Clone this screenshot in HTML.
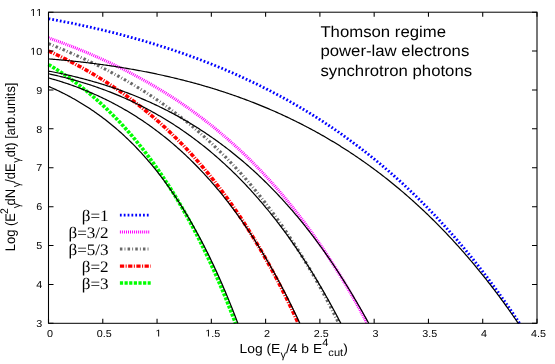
<!DOCTYPE html>
<html><head><meta charset="utf-8"><title>plot</title><style>html,body{margin:0;padding:0;background:#fff}body{width:555px;height:364px;overflow:hidden;position:relative;font-family:"Liberation Sans",sans-serif}</style></head><body>
<svg width="555" height="364" viewBox="0 0 555 364" style="position:absolute;left:0;top:0;will-change:transform;text-rendering:geometricPrecision">
<rect x="0" y="0" width="555" height="364" fill="#fff"/>
<g transform="scale(1.0673,1)">
<g fill="none">
<path d="M45.44,18.77 L46.59,18.99 L47.74,19.22 L48.88,19.44 L50.03,19.67 L51.18,19.89 L52.32,20.12 L53.47,20.35 L54.62,20.59 L55.77,20.82 L56.91,21.05 L58.06,21.29 L59.21,21.53 L60.35,21.77 L61.50,22.01 L62.65,22.25 L63.80,22.50 L64.94,22.74 L66.09,22.99 L67.24,23.24 L68.38,23.49 L69.53,23.74 L70.68,24.00 L71.83,24.25 L72.97,24.51 L74.12,24.77 L75.27,25.03 L76.41,25.29 L77.56,25.55 L78.71,25.82 L79.86,26.09 L81.00,26.35 L82.15,26.62 L83.30,26.90 L84.44,27.17 L85.59,27.45 L86.74,27.72 L87.89,28.00 L89.03,28.28 L90.18,28.56 L91.33,28.85 L92.47,29.13 L93.62,29.42 L94.77,29.71 L95.91,30.00 L97.06,30.29 L98.21,30.59 L99.36,30.89 L100.50,31.18 L101.65,31.48 L102.80,31.79 L103.94,32.09 L105.09,32.39 L106.24,32.70 L107.39,33.01 L108.53,33.32 L109.68,33.64 L110.83,33.95 L111.97,34.27 L113.12,34.58 L114.27,34.91 L115.42,35.23 L116.56,35.55 L117.71,35.88 L118.86,36.21 L120.00,36.54 L121.15,36.87 L122.30,37.20 L123.45,37.54 L124.59,37.88 L125.74,38.22 L126.89,38.56 L128.03,38.90 L129.18,39.25 L130.33,39.60 L131.48,39.95 L132.62,40.30 L133.77,40.65 L134.92,41.01 L136.06,41.37 L137.21,41.73 L138.36,42.09 L139.51,42.45 L140.65,42.82 L141.80,43.19 L142.95,43.56 L144.09,43.93 L145.24,44.31 L146.39,44.68 L147.53,45.06 L148.68,45.45 L149.83,45.83 L150.98,46.22 L152.12,46.60 L153.27,46.99 L154.42,47.39 L155.56,47.78 L156.71,48.18 L157.86,48.58 L159.01,48.98 L160.15,49.38 L161.30,49.79 L162.45,50.20 L163.59,50.61 L164.74,51.02 L165.89,51.44 L167.04,51.86 L168.18,52.28 L169.33,52.70 L170.48,53.13 L171.62,53.55 L172.77,53.98 L173.92,54.42 L175.07,54.85 L176.21,55.29 L177.36,55.73 L178.51,56.17 L179.65,56.61 L180.80,57.06 L181.95,57.51 L183.10,57.96 L184.24,58.42 L185.39,58.88 L186.54,59.34 L187.68,59.80 L188.83,60.26 L189.98,60.73 L191.13,61.20 L192.27,61.67 L193.42,62.15 L194.57,62.63 L195.71,63.11 L196.86,63.59 L198.01,64.08 L199.16,64.57 L200.30,65.06 L201.45,65.55 L202.60,66.05 L203.74,66.55 L204.89,67.05 L206.04,67.56 L207.18,68.06 L208.33,68.57 L209.48,69.09 L210.63,69.60 L211.77,70.12 L212.92,70.65 L214.07,71.17 L215.21,71.70 L216.36,72.23 L217.51,72.76 L218.66,73.30 L219.80,73.84 L220.95,74.38 L222.10,74.93 L223.24,75.48 L224.39,76.03 L225.54,76.58 L226.69,77.14 L227.83,77.70 L228.98,78.26 L230.13,78.83 L231.27,79.40 L232.42,79.97 L233.57,80.55 L234.72,81.13 L235.86,81.71 L237.01,82.30 L238.16,82.89 L239.30,83.48 L240.45,84.07 L241.60,84.67 L242.75,85.27 L243.89,85.88 L245.04,86.49 L246.19,87.10 L247.33,87.71 L248.48,88.33 L249.63,88.95 L250.78,89.58 L251.92,90.20 L253.07,90.84 L254.22,91.47 L255.36,92.11 L256.51,92.75 L257.66,93.40 L258.81,94.05 L259.95,94.70 L261.10,95.35 L262.25,96.01 L263.39,96.68 L264.54,97.34 L265.69,98.01 L266.83,98.69 L267.98,99.36 L269.13,100.05 L270.28,100.73 L271.42,101.42 L272.57,102.11 L273.72,102.81 L274.86,103.51 L276.01,104.21 L277.16,104.92 L278.31,105.63 L279.45,106.34 L280.60,107.06 L281.75,107.78 L282.89,108.51 L284.04,109.24 L285.19,109.97 L286.34,110.71 L287.48,111.45 L288.63,112.20 L289.78,112.95 L290.92,113.70 L292.07,114.46 L293.22,115.22 L294.37,115.99 L295.51,116.76 L296.66,117.53 L297.81,118.31 L298.95,119.09 L300.10,119.88 L301.25,120.67 L302.40,121.47 L303.54,122.27 L304.69,123.07 L305.84,123.88 L306.98,124.69 L308.13,125.51 L309.28,126.33 L310.43,127.15 L311.57,127.98 L312.72,128.82 L313.87,129.66 L315.01,130.50 L316.16,131.35 L317.31,132.20 L318.46,133.06 L319.60,133.92 L320.75,134.78 L321.90,135.65 L323.04,136.53 L324.19,137.41 L325.34,138.29 L326.48,139.18 L327.63,140.08 L328.78,140.98 L329.93,141.88 L331.07,142.79 L332.22,143.70 L333.37,144.62 L334.51,145.54 L335.66,146.47 L336.81,147.40 L337.96,148.34 L339.10,149.28 L340.25,150.23 L341.40,151.18 L342.54,152.14 L343.69,153.10 L344.84,154.07 L345.99,155.04 L347.13,156.02 L348.28,157.00 L349.43,157.99 L350.57,158.98 L351.72,159.98 L352.87,160.99 L354.02,162.00 L355.16,163.01 L356.31,164.03 L357.46,165.06 L358.60,166.09 L359.75,167.13 L360.90,168.17 L362.05,169.22 L363.19,170.27 L364.34,171.33 L365.49,172.39 L366.63,173.46 L367.78,174.54 L368.93,175.62 L370.08,176.71 L371.22,177.80 L372.37,178.90 L373.52,180.00 L374.66,181.11 L375.81,182.23 L376.96,183.35 L378.11,184.48 L379.25,185.61 L380.40,186.75 L381.55,187.90 L382.69,189.05 L383.84,190.21 L384.99,191.37 L386.13,192.54 L387.28,193.72 L388.43,194.90 L389.58,196.09 L390.72,197.28 L391.87,198.48 L393.02,199.69 L394.16,200.91 L395.31,202.13 L396.46,203.35 L397.61,204.59 L398.75,205.83 L399.90,207.07 L401.05,208.33 L402.19,209.59 L403.34,210.85 L404.49,212.13 L405.64,213.41 L406.78,214.69 L407.93,215.99 L409.08,217.29 L410.22,218.59 L411.37,219.91 L412.52,221.23 L413.67,222.56 L414.81,223.89 L415.96,225.23 L417.11,226.58 L418.25,227.94 L419.40,229.30 L420.55,230.67 L421.70,232.05 L422.84,233.43 L423.99,234.83 L425.14,236.23 L426.28,237.63 L427.43,239.05 L428.58,240.47 L429.73,241.90 L430.87,243.33 L432.02,244.78 L433.17,246.23 L434.31,247.69 L435.46,249.16 L436.61,250.63 L437.76,252.12 L438.90,253.61 L440.05,255.10 L441.20,256.61 L442.34,258.13 L443.49,259.65 L444.64,261.18 L445.78,262.72 L446.93,264.26 L448.08,265.82 L449.23,267.38 L450.37,268.95 L451.52,270.53 L452.67,272.12 L453.81,273.71 L454.96,275.32 L456.11,276.93 L457.26,278.55 L458.40,280.18 L459.55,281.82 L460.70,283.47 L461.84,285.12 L462.99,286.79 L464.14,288.46 L465.29,290.14 L466.43,291.83 L467.58,293.53 L468.73,295.24 L469.87,296.96 L471.02,298.69 L472.17,300.42 L473.32,302.17 L474.46,303.92 L475.61,305.68 L476.76,307.46 L477.90,309.24 L479.05,311.03 L480.20,312.83 L481.35,314.64 L482.49,316.46 L483.64,318.29 L484.79,320.13 L485.93,321.98 L486.75,323.30" stroke="#0000ff" stroke-width="2.8" stroke-dasharray="1.65 1.96"/>
<path d="M45.44,37.87 L46.59,38.30 L47.74,38.73 L48.88,39.17 L50.03,39.61 L51.18,40.05 L52.32,40.49 L53.47,40.93 L54.62,41.38 L55.77,41.83 L56.91,42.29 L58.06,42.74 L59.21,43.20 L60.35,43.66 L61.50,44.12 L62.65,44.59 L63.80,45.06 L64.94,45.53 L66.09,46.00 L67.24,46.48 L68.38,46.96 L69.53,47.44 L70.68,47.92 L71.83,48.41 L72.97,48.90 L74.12,49.39 L75.27,49.89 L76.41,50.39 L77.56,50.89 L78.71,51.39 L79.86,51.90 L81.00,52.41 L82.15,52.93 L83.30,53.44 L84.44,53.96 L85.59,54.48 L86.74,55.01 L87.89,55.54 L89.03,56.07 L90.18,56.61 L91.33,57.15 L92.47,57.69 L93.62,58.23 L94.77,58.78 L95.91,59.33 L97.06,59.89 L98.21,60.45 L99.36,61.01 L100.50,61.57 L101.65,62.14 L102.80,62.71 L103.94,63.29 L105.09,63.87 L106.24,64.45 L107.39,65.04 L108.53,65.63 L109.68,66.22 L110.83,66.82 L111.97,67.42 L113.12,68.02 L114.27,68.63 L115.42,69.24 L116.56,69.86 L117.71,70.48 L118.86,71.10 L120.00,71.73 L121.15,72.36 L122.30,73.00 L123.45,73.64 L124.59,74.28 L125.74,74.93 L126.89,75.58 L128.03,76.23 L129.18,76.89 L130.33,77.56 L131.48,78.23 L132.62,78.90 L133.77,79.58 L134.92,80.26 L136.06,80.94 L137.21,81.63 L138.36,82.33 L139.51,83.02 L140.65,83.73 L141.80,84.43 L142.95,85.15 L144.09,85.86 L145.24,86.58 L146.39,87.31 L147.53,88.04 L148.68,88.78 L149.83,89.52 L150.98,90.26 L152.12,91.01 L153.27,91.77 L154.42,92.53 L155.56,93.29 L156.71,94.06 L157.86,94.83 L159.01,95.61 L160.15,96.40 L161.30,97.19 L162.45,97.98 L163.59,98.78 L164.74,99.59 L165.89,100.40 L167.04,101.21 L168.18,102.03 L169.33,102.86 L170.48,103.69 L171.62,104.53 L172.77,105.37 L173.92,106.22 L175.07,107.08 L176.21,107.94 L177.36,108.80 L178.51,109.67 L179.65,110.55 L180.80,111.43 L181.95,112.32 L183.10,113.22 L184.24,114.12 L185.39,115.02 L186.54,115.93 L187.68,116.85 L188.83,117.78 L189.98,118.71 L191.13,119.65 L192.27,120.59 L193.42,121.54 L194.57,122.49 L195.71,123.46 L196.86,124.42 L198.01,125.40 L199.16,126.38 L200.30,127.37 L201.45,128.36 L202.60,129.37 L203.74,130.37 L204.89,131.39 L206.04,132.41 L207.18,133.44 L208.33,134.47 L209.48,135.52 L210.63,136.57 L211.77,137.62 L212.92,138.69 L214.07,139.76 L215.21,140.83 L216.36,141.92 L217.51,143.01 L218.66,144.11 L219.80,145.22 L220.95,146.33 L222.10,147.46 L223.24,148.59 L224.39,149.72 L225.54,150.87 L226.69,152.02 L227.83,153.18 L228.98,154.35 L230.13,155.53 L231.27,156.71 L232.42,157.91 L233.57,159.11 L234.72,160.32 L235.86,161.53 L237.01,162.76 L238.16,163.99 L239.30,165.24 L240.45,166.49 L241.60,167.74 L242.75,169.01 L243.89,170.29 L245.04,171.57 L246.19,172.87 L247.33,174.17 L248.48,175.48 L249.63,176.80 L250.78,178.13 L251.92,179.47 L253.07,180.82 L254.22,182.17 L255.36,183.54 L256.51,184.92 L257.66,186.30 L258.81,187.69 L259.95,189.10 L261.10,190.51 L262.25,191.93 L263.39,193.37 L264.54,194.81 L265.69,196.26 L266.83,197.72 L267.98,199.20 L269.13,200.68 L270.28,202.17 L271.42,203.68 L272.57,205.19 L273.72,206.71 L274.86,208.25 L276.01,209.79 L277.16,211.35 L278.31,212.91 L279.45,214.49 L280.60,216.08 L281.75,217.67 L282.89,219.28 L284.04,220.90 L285.19,222.54 L286.34,224.18 L287.48,225.83 L288.63,227.50 L289.78,229.17 L290.92,230.86 L292.07,232.56 L293.22,234.28 L294.37,236.00 L295.51,237.73 L296.66,239.48 L297.81,241.24 L298.95,243.01 L300.10,244.80 L301.25,246.59 L302.40,248.40 L303.54,250.22 L304.69,252.05 L305.84,253.90 L306.98,255.76 L308.13,257.63 L309.28,259.52 L310.43,261.41 L311.57,263.32 L312.72,265.25 L313.87,267.18 L315.01,269.14 L316.16,271.10 L317.31,273.08 L318.46,275.07 L319.60,277.07 L320.75,279.09 L321.90,281.12 L323.04,283.17 L324.19,285.23 L325.34,287.31 L326.48,289.40 L327.63,291.50 L328.78,293.62 L329.93,295.75 L331.07,297.90 L332.22,300.06 L333.37,302.24 L334.51,304.43 L335.66,306.64 L336.81,308.87 L337.96,311.10 L339.10,313.36 L340.25,315.63 L341.40,317.91 L342.54,320.22 L343.69,322.53 L344.07,323.30" stroke="#ff00ff" stroke-width="3" stroke-dasharray="0.95 0.945"/>
<path d="M45.44,43.68 L46.59,44.17 L47.74,44.66 L48.88,45.16 L50.03,45.65 L51.18,46.15 L52.32,46.65 L53.47,47.15 L54.62,47.66 L55.77,48.16 L56.91,48.67 L58.06,49.19 L59.21,49.70 L60.35,50.22 L61.50,50.74 L62.65,51.26 L63.80,51.79 L64.94,52.32 L66.09,52.85 L67.24,53.38 L68.38,53.92 L69.53,54.46 L70.68,55.00 L71.83,55.55 L72.97,56.10 L74.12,56.65 L75.27,57.21 L76.41,57.77 L77.56,58.33 L78.71,58.89 L79.86,59.46 L81.00,60.03 L82.15,60.61 L83.30,61.19 L84.44,61.77 L85.59,62.35 L86.74,62.94 L87.89,63.53 L89.03,64.13 L90.18,64.73 L91.33,65.33 L92.47,65.94 L93.62,66.55 L94.77,67.16 L95.91,67.78 L97.06,68.40 L98.21,69.02 L99.36,69.65 L100.50,70.28 L101.65,70.92 L102.80,71.56 L103.94,72.21 L105.09,72.86 L106.24,73.51 L107.39,74.17 L108.53,74.83 L109.68,75.49 L110.83,76.16 L111.97,76.84 L113.12,77.52 L114.27,78.20 L115.42,78.89 L116.56,79.58 L117.71,80.28 L118.86,80.98 L120.00,81.68 L121.15,82.39 L122.30,83.11 L123.45,83.83 L124.59,84.55 L125.74,85.28 L126.89,86.02 L128.03,86.76 L129.18,87.50 L130.33,88.25 L131.48,89.01 L132.62,89.76 L133.77,90.53 L134.92,91.30 L136.06,92.08 L137.21,92.86 L138.36,93.64 L139.51,94.43 L140.65,95.23 L141.80,96.03 L142.95,96.84 L144.09,97.65 L145.24,98.47 L146.39,99.30 L147.53,100.13 L148.68,100.97 L149.83,101.81 L150.98,102.66 L152.12,103.51 L153.27,104.37 L154.42,105.24 L155.56,106.11 L156.71,106.99 L157.86,107.88 L159.01,108.77 L160.15,109.66 L161.30,110.57 L162.45,111.48 L163.59,112.40 L164.74,113.32 L165.89,114.25 L167.04,115.19 L168.18,116.13 L169.33,117.08 L170.48,118.04 L171.62,119.00 L172.77,119.97 L173.92,120.95 L175.07,121.94 L176.21,122.93 L177.36,123.93 L178.51,124.94 L179.65,125.95 L180.80,126.97 L181.95,128.00 L183.10,129.04 L184.24,130.08 L185.39,131.13 L186.54,132.19 L187.68,133.26 L188.83,134.34 L189.98,135.42 L191.13,136.51 L192.27,137.61 L193.42,138.72 L194.57,139.83 L195.71,140.95 L196.86,142.09 L198.01,143.23 L199.16,144.37 L200.30,145.53 L201.45,146.70 L202.60,147.87 L203.74,149.05 L204.89,150.25 L206.04,151.45 L207.18,152.66 L208.33,153.87 L209.48,155.10 L210.63,156.34 L211.77,157.58 L212.92,158.84 L214.07,160.10 L215.21,161.38 L216.36,162.66 L217.51,163.95 L218.66,165.25 L219.80,166.57 L220.95,167.89 L222.10,169.22 L223.24,170.56 L224.39,171.91 L225.54,173.27 L226.69,174.65 L227.83,176.03 L228.98,177.42 L230.13,178.82 L231.27,180.24 L232.42,181.66 L233.57,183.09 L234.72,184.54 L235.86,186.00 L237.01,187.46 L238.16,188.94 L239.30,190.43 L240.45,191.93 L241.60,193.44 L242.75,194.96 L243.89,196.50 L245.04,198.05 L246.19,199.60 L247.33,201.17 L248.48,202.75 L249.63,204.35 L250.78,205.95 L251.92,207.57 L253.07,209.20 L254.22,210.84 L255.36,212.49 L256.51,214.16 L257.66,215.84 L258.81,217.53 L259.95,219.23 L261.10,220.95 L262.25,222.68 L263.39,224.42 L264.54,226.18 L265.69,227.94 L266.83,229.73 L267.98,231.52 L269.13,233.33 L270.28,235.15 L271.42,236.99 L272.57,238.84 L273.72,240.71 L274.86,242.58 L276.01,244.48 L277.16,246.38 L278.31,248.30 L279.45,250.24 L280.60,252.19 L281.75,254.15 L282.89,256.13 L284.04,258.13 L285.19,260.14 L286.34,262.16 L287.48,264.20 L288.63,266.26 L289.78,268.33 L290.92,270.41 L292.07,272.52 L293.22,274.63 L294.37,276.77 L295.51,278.92 L296.66,281.08 L297.81,283.27 L298.95,285.46 L300.10,287.68 L301.25,289.91 L302.40,292.16 L303.54,294.43 L304.69,296.71 L305.84,299.01 L306.98,301.32 L308.13,303.66 L309.28,306.01 L310.43,308.38 L311.57,310.77 L312.72,313.17 L313.87,315.60 L315.01,318.04 L316.16,320.50 L317.31,322.98 L317.46,323.30" stroke="#686868" stroke-width="3.0" stroke-dasharray="2.35 2.0 0.8 2.05"/>
<path d="M45.44,51.00 L46.59,51.55 L47.74,52.11 L48.88,52.67 L50.03,53.24 L51.18,53.81 L52.32,54.38 L53.47,54.96 L54.62,55.55 L55.77,56.13 L56.91,56.72 L58.06,57.32 L59.21,57.92 L60.35,58.52 L61.50,59.13 L62.65,59.75 L63.80,60.36 L64.94,60.99 L66.09,61.61 L67.24,62.25 L68.38,62.88 L69.53,63.52 L70.68,64.17 L71.83,64.82 L72.97,65.48 L74.12,66.14 L75.27,66.80 L76.41,67.47 L77.56,68.15 L78.71,68.83 L79.86,69.52 L81.00,70.21 L82.15,70.90 L83.30,71.60 L84.44,72.31 L85.59,73.02 L86.74,73.74 L87.89,74.46 L89.03,75.19 L90.18,75.92 L91.33,76.66 L92.47,77.41 L93.62,78.16 L94.77,78.91 L95.91,79.68 L97.06,80.44 L98.21,81.22 L99.36,82.00 L100.50,82.78 L101.65,83.57 L102.80,84.37 L103.94,85.17 L105.09,85.98 L106.24,86.80 L107.39,87.62 L108.53,88.45 L109.68,89.28 L110.83,90.12 L111.97,90.97 L113.12,91.82 L114.27,92.68 L115.42,93.55 L116.56,94.43 L117.71,95.31 L118.86,96.19 L120.00,97.09 L121.15,97.99 L122.30,98.89 L123.45,99.81 L124.59,100.73 L125.74,101.66 L126.89,102.59 L128.03,103.54 L129.18,104.49 L130.33,105.45 L131.48,106.41 L132.62,107.38 L133.77,108.36 L134.92,109.35 L136.06,110.35 L137.21,111.35 L138.36,112.36 L139.51,113.38 L140.65,114.40 L141.80,115.44 L142.95,116.48 L144.09,117.53 L145.24,118.59 L146.39,119.66 L147.53,120.73 L148.68,121.82 L149.83,122.91 L150.98,124.01 L152.12,125.12 L153.27,126.24 L154.42,127.36 L155.56,128.50 L156.71,129.64 L157.86,130.80 L159.01,131.96 L160.15,133.13 L161.30,134.31 L162.45,135.50 L163.59,136.70 L164.74,137.91 L165.89,139.13 L167.04,140.36 L168.18,141.59 L169.33,142.84 L170.48,144.10 L171.62,145.36 L172.77,146.64 L173.92,147.93 L175.07,149.22 L176.21,150.53 L177.36,151.85 L178.51,153.18 L179.65,154.52 L180.80,155.87 L181.95,157.23 L183.10,158.60 L184.24,159.98 L185.39,161.37 L186.54,162.77 L187.68,164.19 L188.83,165.61 L189.98,167.05 L191.13,168.50 L192.27,169.96 L193.42,171.43 L194.57,172.91 L195.71,174.41 L196.86,175.91 L198.01,177.43 L199.16,178.96 L200.30,180.51 L201.45,182.06 L202.60,183.63 L203.74,185.21 L204.89,186.80 L206.04,188.41 L207.18,190.03 L208.33,191.66 L209.48,193.30 L210.63,194.96 L211.77,196.63 L212.92,198.32 L214.07,200.02 L215.21,201.73 L216.36,203.45 L217.51,205.19 L218.66,206.94 L219.80,208.71 L220.95,210.49 L222.10,212.29 L223.24,214.10 L224.39,215.92 L225.54,217.76 L226.69,219.61 L227.83,221.48 L228.98,223.37 L230.13,225.27 L231.27,227.18 L232.42,229.11 L233.57,231.05 L234.72,233.02 L235.86,234.99 L237.01,236.99 L238.16,238.99 L239.30,241.02 L240.45,243.06 L241.60,245.12 L242.75,247.19 L243.89,249.28 L245.04,251.39 L246.19,253.52 L247.33,255.66 L248.48,257.82 L249.63,260.00 L250.78,262.19 L251.92,264.40 L253.07,266.63 L254.22,268.88 L255.36,271.15 L256.51,273.44 L257.66,275.74 L258.81,278.06 L259.95,280.40 L261.10,282.76 L262.25,285.14 L263.39,287.54 L264.54,289.96 L265.69,292.40 L266.83,294.86 L267.98,297.34 L269.13,299.84 L270.28,302.35 L271.42,304.89 L272.57,307.45 L273.72,310.03 L274.86,312.64 L276.01,315.26 L277.16,317.90 L278.31,320.57 L279.45,323.26 L279.47,323.30" stroke="#ff0000" stroke-width="3.45" stroke-dasharray="4.0 1.35 1.0 1.35"/>
<path d="M45.44,64.63 L46.59,65.35 L47.74,66.07 L48.88,66.80 L50.03,67.55 L51.18,68.30 L52.32,69.06 L53.47,69.82 L54.62,70.60 L55.77,71.39 L56.91,72.18 L58.06,72.98 L59.21,73.80 L60.35,74.62 L61.50,75.45 L62.65,76.29 L63.80,77.13 L64.94,77.99 L66.09,78.86 L67.24,79.74 L68.38,80.62 L69.53,81.52 L70.68,82.42 L71.83,83.34 L72.97,84.26 L74.12,85.19 L75.27,86.14 L76.41,87.09 L77.56,88.05 L78.71,89.03 L79.86,90.01 L81.00,91.00 L82.15,92.01 L83.30,93.02 L84.44,94.04 L85.59,95.08 L86.74,96.12 L87.89,97.18 L89.03,98.24 L90.18,99.32 L91.33,100.41 L92.47,101.51 L93.62,102.62 L94.77,103.74 L95.91,104.87 L97.06,106.01 L98.21,107.16 L99.36,108.33 L100.50,109.51 L101.65,110.70 L102.80,111.90 L103.94,113.11 L105.09,114.33 L106.24,115.57 L107.39,116.81 L108.53,118.07 L109.68,119.35 L110.83,120.63 L111.97,121.93 L113.12,123.24 L114.27,124.56 L115.42,125.89 L116.56,127.24 L117.71,128.60 L118.86,129.98 L120.00,131.36 L121.15,132.76 L122.30,134.18 L123.45,135.60 L124.59,137.05 L125.74,138.50 L126.89,139.97 L128.03,141.45 L129.18,142.95 L130.33,144.46 L131.48,145.99 L132.62,147.53 L133.77,149.08 L134.92,150.65 L136.06,152.24 L137.21,153.84 L138.36,155.45 L139.51,157.08 L140.65,158.73 L141.80,160.39 L142.95,162.07 L144.09,163.76 L145.24,165.47 L146.39,167.20 L147.53,168.94 L148.68,170.70 L149.83,172.48 L150.98,174.27 L152.12,176.08 L153.27,177.91 L154.42,179.76 L155.56,181.62 L156.71,183.50 L157.86,185.40 L159.01,187.32 L160.15,189.25 L161.30,191.21 L162.45,193.18 L163.59,195.17 L164.74,197.18 L165.89,199.21 L167.04,201.26 L168.18,203.33 L169.33,205.42 L170.48,207.53 L171.62,209.66 L172.77,211.81 L173.92,213.98 L175.07,216.18 L176.21,218.39 L177.36,220.63 L178.51,222.88 L179.65,225.16 L180.80,227.46 L181.95,229.78 L183.10,232.13 L184.24,234.50 L185.39,236.89 L186.54,239.30 L187.68,241.74 L188.83,244.20 L189.98,246.69 L191.13,249.20 L192.27,251.73 L193.42,254.29 L194.57,256.88 L195.71,259.49 L196.86,262.12 L198.01,264.79 L199.16,267.47 L200.30,270.19 L201.45,272.93 L202.60,275.70 L203.74,278.49 L204.89,281.32 L206.04,284.17 L207.18,287.05 L208.33,289.95 L209.48,292.89 L210.63,295.86 L211.77,298.85 L212.92,301.88 L214.07,304.93 L215.21,308.02 L216.36,311.13 L217.51,314.28 L218.66,317.46 L219.80,320.67 L220.73,323.30" stroke="#00ff00" stroke-width="3.5" stroke-dasharray="3.0 1.34"/>
<path d="M45.44,58.89 L46.59,58.99 L47.74,59.08 L48.88,59.18 L50.03,59.28 L51.18,59.39 L52.32,59.49 L53.47,59.60 L54.62,59.70 L55.77,59.81 L56.91,59.92 L58.06,60.03 L59.21,60.15 L60.35,60.26 L61.50,60.38 L62.65,60.50 L63.80,60.62 L64.94,60.74 L66.09,60.86 L67.24,60.98 L68.38,61.11 L69.53,61.24 L70.68,61.37 L71.83,61.50 L72.97,61.63 L74.12,61.76 L75.27,61.90 L76.41,62.04 L77.56,62.18 L78.71,62.32 L79.86,62.46 L81.00,62.60 L82.15,62.75 L83.30,62.90 L84.44,63.05 L85.59,63.20 L86.74,63.35 L87.89,63.51 L89.03,63.66 L90.18,63.82 L91.33,63.98 L92.47,64.14 L93.62,64.31 L94.77,64.47 L95.91,64.64 L97.06,64.81 L98.21,64.98 L99.36,65.15 L100.50,65.33 L101.65,65.50 L102.80,65.68 L103.94,65.86 L105.09,66.05 L106.24,66.23 L107.39,66.42 L108.53,66.60 L109.68,66.79 L110.83,66.98 L111.97,67.18 L113.12,67.37 L114.27,67.57 L115.42,67.77 L116.56,67.97 L117.71,68.18 L118.86,68.38 L120.00,68.59 L121.15,68.80 L122.30,69.01 L123.45,69.23 L124.59,69.44 L125.74,69.66 L126.89,69.88 L128.03,70.10 L129.18,70.33 L130.33,70.55 L131.48,70.78 L132.62,71.01 L133.77,71.24 L134.92,71.48 L136.06,71.72 L137.21,71.95 L138.36,72.20 L139.51,72.44 L140.65,72.68 L141.80,72.93 L142.95,73.18 L144.09,73.44 L145.24,73.69 L146.39,73.95 L147.53,74.21 L148.68,74.47 L149.83,74.73 L150.98,75.00 L152.12,75.27 L153.27,75.54 L154.42,75.81 L155.56,76.08 L156.71,76.36 L157.86,76.64 L159.01,76.92 L160.15,77.21 L161.30,77.50 L162.45,77.79 L163.59,78.08 L164.74,78.37 L165.89,78.67 L167.04,78.97 L168.18,79.27 L169.33,79.58 L170.48,79.88 L171.62,80.19 L172.77,80.50 L173.92,80.82 L175.07,81.14 L176.21,81.46 L177.36,81.78 L178.51,82.10 L179.65,82.43 L180.80,82.76 L181.95,83.09 L183.10,83.43 L184.24,83.77 L185.39,84.11 L186.54,84.45 L187.68,84.80 L188.83,85.14 L189.98,85.50 L191.13,85.85 L192.27,86.21 L193.42,86.57 L194.57,86.93 L195.71,87.29 L196.86,87.66 L198.01,88.03 L199.16,88.41 L200.30,88.78 L201.45,89.16 L202.60,89.54 L203.74,89.93 L204.89,90.32 L206.04,90.71 L207.18,91.10 L208.33,91.50 L209.48,91.90 L210.63,92.30 L211.77,92.71 L212.92,93.12 L214.07,93.53 L215.21,93.94 L216.36,94.36 L217.51,94.78 L218.66,95.21 L219.80,95.63 L220.95,96.06 L222.10,96.50 L223.24,96.93 L224.39,97.37 L225.54,97.82 L226.69,98.26 L227.83,98.71 L228.98,99.16 L230.13,99.62 L231.27,100.08 L232.42,100.54 L233.57,101.01 L234.72,101.48 L235.86,101.95 L237.01,102.42 L238.16,102.90 L239.30,103.38 L240.45,103.87 L241.60,104.36 L242.75,104.85 L243.89,105.35 L245.04,105.85 L246.19,106.35 L247.33,106.86 L248.48,107.37 L249.63,107.88 L250.78,108.40 L251.92,108.92 L253.07,109.44 L254.22,109.97 L255.36,110.50 L256.51,111.03 L257.66,111.57 L258.81,112.12 L259.95,112.66 L261.10,113.21 L262.25,113.76 L263.39,114.32 L264.54,114.88 L265.69,115.45 L266.83,116.02 L267.98,116.59 L269.13,117.16 L270.28,117.74 L271.42,118.33 L272.57,118.92 L273.72,119.51 L274.86,120.10 L276.01,120.70 L277.16,121.31 L278.31,121.91 L279.45,122.53 L280.60,123.14 L281.75,123.76 L282.89,124.39 L284.04,125.01 L285.19,125.65 L286.34,126.28 L287.48,126.92 L288.63,127.57 L289.78,128.21 L290.92,128.87 L292.07,129.52 L293.22,130.19 L294.37,130.85 L295.51,131.52 L296.66,132.20 L297.81,132.88 L298.95,133.56 L300.10,134.25 L301.25,134.94 L302.40,135.63 L303.54,136.34 L304.69,137.04 L305.84,137.75 L306.98,138.47 L308.13,139.18 L309.28,139.91 L310.43,140.64 L311.57,141.37 L312.72,142.11 L313.87,142.85 L315.01,143.60 L316.16,144.35 L317.31,145.10 L318.46,145.86 L319.60,146.63 L320.75,147.40 L321.90,148.18 L323.04,148.96 L324.19,149.74 L325.34,150.53 L326.48,151.33 L327.63,152.13 L328.78,152.93 L329.93,153.74 L331.07,154.56 L332.22,155.38 L333.37,156.20 L334.51,157.04 L335.66,157.87 L336.81,158.71 L337.96,159.56 L339.10,160.41 L340.25,161.27 L341.40,162.13 L342.54,162.99 L343.69,163.87 L344.84,164.74 L345.99,165.63 L347.13,166.52 L348.28,167.41 L349.43,168.31 L350.57,169.22 L351.72,170.13 L352.87,171.04 L354.02,171.96 L355.16,172.89 L356.31,173.82 L357.46,174.76 L358.60,175.71 L359.75,176.66 L360.90,177.61 L362.05,178.58 L363.19,179.54 L364.34,180.52 L365.49,181.50 L366.63,182.48 L367.78,183.47 L368.93,184.47 L370.08,185.47 L371.22,186.48 L372.37,187.50 L373.52,188.52 L374.66,189.54 L375.81,190.58 L376.96,191.62 L378.11,192.66 L379.25,193.71 L380.40,194.77 L381.55,195.84 L382.69,196.91 L383.84,197.99 L384.99,199.07 L386.13,200.16 L387.28,201.26 L388.43,202.36 L389.58,203.47 L390.72,204.59 L391.87,205.71 L393.02,206.84 L394.16,207.98 L395.31,209.12 L396.46,210.27 L397.61,211.42 L398.75,212.59 L399.90,213.76 L401.05,214.93 L402.19,216.12 L403.34,217.31 L404.49,218.51 L405.64,219.71 L406.78,220.92 L407.93,222.14 L409.08,223.37 L410.22,224.60 L411.37,225.84 L412.52,227.09 L413.67,228.35 L414.81,229.61 L415.96,230.88 L417.11,232.16 L418.25,233.44 L419.40,234.73 L420.55,236.03 L421.70,237.34 L422.84,238.65 L423.99,239.98 L425.14,241.31 L426.28,242.64 L427.43,243.99 L428.58,245.34 L429.73,246.70 L430.87,248.07 L432.02,249.45 L433.17,250.83 L434.31,252.23 L435.46,253.63 L436.61,255.04 L437.76,256.45 L438.90,257.88 L440.05,259.31 L441.20,260.75 L442.34,262.20 L443.49,263.66 L444.64,265.13 L445.78,266.60 L446.93,268.09 L448.08,269.58 L449.23,271.08 L450.37,272.59 L451.52,274.10 L452.67,275.63 L453.81,277.16 L454.96,278.71 L456.11,280.26 L457.26,281.82 L458.40,283.39 L459.55,284.97 L460.70,286.56 L461.84,288.16 L462.99,289.76 L464.14,291.38 L465.29,293.00 L466.43,294.63 L467.58,296.28 L468.73,297.93 L469.87,299.59 L471.02,301.26 L472.17,302.94 L473.32,304.63 L474.46,306.33 L475.61,308.04 L476.76,309.76 L477.90,311.49 L479.05,313.23 L480.20,314.97 L481.35,316.73 L482.49,318.50 L483.64,320.28 L484.79,322.06 L485.58,323.30" stroke="#000" stroke-width="1.2"/>
<path d="M45.44,71.07 L46.59,71.30 L47.74,71.53 L48.88,71.76 L50.03,72.00 L51.18,72.24 L52.32,72.49 L53.47,72.73 L54.62,72.98 L55.77,73.24 L56.91,73.49 L58.06,73.75 L59.21,74.01 L60.35,74.28 L61.50,74.55 L62.65,74.82 L63.80,75.10 L64.94,75.38 L66.09,75.66 L67.24,75.95 L68.38,76.24 L69.53,76.53 L70.68,76.83 L71.83,77.13 L72.97,77.43 L74.12,77.74 L75.27,78.05 L76.41,78.36 L77.56,78.68 L78.71,79.00 L79.86,79.33 L81.00,79.65 L82.15,79.99 L83.30,80.32 L84.44,80.66 L85.59,81.00 L86.74,81.35 L87.89,81.70 L89.03,82.06 L90.18,82.42 L91.33,82.78 L92.47,83.14 L93.62,83.51 L94.77,83.89 L95.91,84.26 L97.06,84.65 L98.21,85.03 L99.36,85.42 L100.50,85.82 L101.65,86.21 L102.80,86.62 L103.94,87.02 L105.09,87.43 L106.24,87.85 L107.39,88.26 L108.53,88.69 L109.68,89.11 L110.83,89.54 L111.97,89.98 L113.12,90.42 L114.27,90.86 L115.42,91.31 L116.56,91.76 L117.71,92.22 L118.86,92.68 L120.00,93.15 L121.15,93.62 L122.30,94.09 L123.45,94.57 L124.59,95.06 L125.74,95.55 L126.89,96.04 L128.03,96.54 L129.18,97.04 L130.33,97.55 L131.48,98.06 L132.62,98.58 L133.77,99.10 L134.92,99.62 L136.06,100.16 L137.21,100.69 L138.36,101.23 L139.51,101.78 L140.65,102.33 L141.80,102.89 L142.95,103.45 L144.09,104.02 L145.24,104.59 L146.39,105.16 L147.53,105.75 L148.68,106.33 L149.83,106.92 L150.98,107.52 L152.12,108.12 L153.27,108.73 L154.42,109.35 L155.56,109.97 L156.71,110.59 L157.86,111.22 L159.01,111.86 L160.15,112.50 L161.30,113.14 L162.45,113.80 L163.59,114.45 L164.74,115.12 L165.89,115.79 L167.04,116.46 L168.18,117.14 L169.33,117.83 L170.48,118.52 L171.62,119.22 L172.77,119.92 L173.92,120.63 L175.07,121.35 L176.21,122.07 L177.36,122.80 L178.51,123.54 L179.65,124.28 L180.80,125.02 L181.95,125.78 L183.10,126.54 L184.24,127.30 L185.39,128.08 L186.54,128.86 L187.68,129.64 L188.83,130.43 L189.98,131.23 L191.13,132.04 L192.27,132.85 L193.42,133.67 L194.57,134.49 L195.71,135.32 L196.86,136.16 L198.01,137.01 L199.16,137.86 L200.30,138.72 L201.45,139.59 L202.60,140.46 L203.74,141.34 L204.89,142.23 L206.04,143.12 L207.18,144.02 L208.33,144.93 L209.48,145.85 L210.63,146.77 L211.77,147.70 L212.92,148.64 L214.07,149.59 L215.21,150.54 L216.36,151.50 L217.51,152.47 L218.66,153.45 L219.80,154.44 L220.95,155.43 L222.10,156.43 L223.24,157.44 L224.39,158.45 L225.54,159.48 L226.69,160.51 L227.83,161.55 L228.98,162.60 L230.13,163.65 L231.27,164.72 L232.42,165.79 L233.57,166.87 L234.72,167.96 L235.86,169.06 L237.01,170.17 L238.16,171.29 L239.30,172.41 L240.45,173.54 L241.60,174.69 L242.75,175.84 L243.89,177.00 L245.04,178.17 L246.19,179.34 L247.33,180.53 L248.48,181.73 L249.63,182.93 L250.78,184.15 L251.92,185.37 L253.07,186.60 L254.22,187.85 L255.36,189.10 L256.51,190.36 L257.66,191.63 L258.81,192.91 L259.95,194.20 L261.10,195.50 L262.25,196.81 L263.39,198.13 L264.54,199.47 L265.69,200.81 L266.83,202.16 L267.98,203.52 L269.13,204.89 L270.28,206.27 L271.42,207.66 L272.57,209.07 L273.72,210.48 L274.86,211.90 L276.01,213.34 L277.16,214.78 L278.31,216.24 L279.45,217.71 L280.60,219.19 L281.75,220.68 L282.89,222.18 L284.04,223.69 L285.19,225.21 L286.34,226.75 L287.48,228.29 L288.63,229.85 L289.78,231.42 L290.92,233.00 L292.07,234.59 L293.22,236.20 L294.37,237.81 L295.51,239.44 L296.66,241.08 L297.81,242.74 L298.95,244.40 L300.10,246.08 L301.25,247.77 L302.40,249.47 L303.54,251.19 L304.69,252.91 L305.84,254.65 L306.98,256.41 L308.13,258.17 L309.28,259.95 L310.43,261.75 L311.57,263.55 L312.72,265.37 L313.87,267.20 L315.01,269.05 L316.16,270.91 L317.31,272.78 L318.46,274.67 L319.60,276.57 L320.75,278.48 L321.90,280.41 L323.04,282.35 L324.19,284.31 L325.34,286.28 L326.48,288.27 L327.63,290.27 L328.78,292.28 L329.93,294.31 L331.07,296.36 L332.22,298.42 L333.37,300.49 L334.51,302.58 L335.66,304.69 L336.81,306.81 L337.96,308.94 L339.10,311.09 L340.25,313.26 L341.40,315.44 L342.54,317.64 L343.69,319.86 L344.84,322.09 L345.46,323.30" stroke="#000" stroke-width="1.2"/>
<path d="M45.44,73.77 L46.59,74.03 L47.74,74.30 L48.88,74.57 L50.03,74.84 L51.18,75.11 L52.32,75.39 L53.47,75.68 L54.62,75.97 L55.77,76.26 L56.91,76.55 L58.06,76.85 L59.21,77.16 L60.35,77.46 L61.50,77.78 L62.65,78.09 L63.80,78.41 L64.94,78.74 L66.09,79.07 L67.24,79.40 L68.38,79.73 L69.53,80.08 L70.68,80.42 L71.83,80.77 L72.97,81.12 L74.12,81.48 L75.27,81.84 L76.41,82.21 L77.56,82.58 L78.71,82.96 L79.86,83.34 L81.00,83.72 L82.15,84.11 L83.30,84.50 L84.44,84.90 L85.59,85.30 L86.74,85.71 L87.89,86.12 L89.03,86.54 L90.18,86.96 L91.33,87.39 L92.47,87.82 L93.62,88.25 L94.77,88.69 L95.91,89.14 L97.06,89.59 L98.21,90.04 L99.36,90.50 L100.50,90.97 L101.65,91.44 L102.80,91.91 L103.94,92.39 L105.09,92.88 L106.24,93.37 L107.39,93.86 L108.53,94.36 L109.68,94.87 L110.83,95.38 L111.97,95.89 L113.12,96.41 L114.27,96.94 L115.42,97.47 L116.56,98.01 L117.71,98.55 L118.86,99.10 L120.00,99.65 L121.15,100.21 L122.30,100.78 L123.45,101.35 L124.59,101.92 L125.74,102.51 L126.89,103.09 L128.03,103.69 L129.18,104.29 L130.33,104.89 L131.48,105.50 L132.62,106.12 L133.77,106.74 L134.92,107.37 L136.06,108.00 L137.21,108.64 L138.36,109.29 L139.51,109.94 L140.65,110.60 L141.80,111.26 L142.95,111.94 L144.09,112.61 L145.24,113.30 L146.39,113.99 L147.53,114.68 L148.68,115.39 L149.83,116.10 L150.98,116.81 L152.12,117.53 L153.27,118.26 L154.42,119.00 L155.56,119.74 L156.71,120.49 L157.86,121.25 L159.01,122.01 L160.15,122.78 L161.30,123.56 L162.45,124.34 L163.59,125.13 L164.74,125.93 L165.89,126.73 L167.04,127.54 L168.18,128.36 L169.33,129.19 L170.48,130.02 L171.62,130.86 L172.77,131.71 L173.92,132.57 L175.07,133.43 L176.21,134.30 L177.36,135.18 L178.51,136.06 L179.65,136.96 L180.80,137.86 L181.95,138.77 L183.10,139.68 L184.24,140.61 L185.39,141.54 L186.54,142.48 L187.68,143.43 L188.83,144.39 L189.98,145.35 L191.13,146.33 L192.27,147.31 L193.42,148.30 L194.57,149.30 L195.71,150.30 L196.86,151.32 L198.01,152.34 L199.16,153.37 L200.30,154.41 L201.45,155.46 L202.60,156.52 L203.74,157.59 L204.89,158.67 L206.04,159.75 L207.18,160.84 L208.33,161.95 L209.48,163.06 L210.63,164.18 L211.77,165.31 L212.92,166.45 L214.07,167.60 L215.21,168.76 L216.36,169.93 L217.51,171.11 L218.66,172.30 L219.80,173.49 L220.95,174.70 L222.10,175.92 L223.24,177.14 L224.39,178.38 L225.54,179.63 L226.69,180.88 L227.83,182.15 L228.98,183.43 L230.13,184.72 L231.27,186.02 L232.42,187.33 L233.57,188.64 L234.72,189.97 L235.86,191.32 L237.01,192.67 L238.16,194.03 L239.30,195.40 L240.45,196.79 L241.60,198.18 L242.75,199.59 L243.89,201.01 L245.04,202.44 L246.19,203.88 L247.33,205.33 L248.48,206.79 L249.63,208.27 L250.78,209.75 L251.92,211.25 L253.07,212.76 L254.22,214.29 L255.36,215.82 L256.51,217.37 L257.66,218.93 L258.81,220.50 L259.95,222.08 L261.10,223.68 L262.25,225.28 L263.39,226.91 L264.54,228.54 L265.69,230.19 L266.83,231.85 L267.98,233.52 L269.13,235.20 L270.28,236.90 L271.42,238.62 L272.57,240.34 L273.72,242.08 L274.86,243.83 L276.01,245.60 L277.16,247.38 L278.31,249.17 L279.45,250.98 L280.60,252.80 L281.75,254.64 L282.89,256.49 L284.04,258.36 L285.19,260.24 L286.34,262.13 L287.48,264.04 L288.63,265.96 L289.78,267.90 L290.92,269.85 L292.07,271.82 L293.22,273.80 L294.37,275.80 L295.51,277.82 L296.66,279.85 L297.81,281.89 L298.95,283.95 L300.10,286.03 L301.25,288.12 L302.40,290.23 L303.54,292.36 L304.69,294.50 L305.84,296.66 L306.98,298.83 L308.13,301.02 L309.28,303.23 L310.43,305.46 L311.57,307.70 L312.72,309.96 L313.87,312.24 L315.01,314.53 L316.16,316.84 L317.31,319.17 L318.46,321.52 L319.32,323.30" stroke="#000" stroke-width="1.2"/>
<path d="M45.44,77.93 L46.59,78.27 L47.74,78.61 L48.88,78.96 L50.03,79.31 L51.18,79.67 L52.32,80.03 L53.47,80.40 L54.62,80.77 L55.77,81.15 L56.91,81.54 L58.06,81.92 L59.21,82.32 L60.35,82.72 L61.50,83.12 L62.65,83.53 L63.80,83.94 L64.94,84.36 L66.09,84.79 L67.24,85.22 L68.38,85.66 L69.53,86.10 L70.68,86.54 L71.83,87.00 L72.97,87.46 L74.12,87.92 L75.27,88.39 L76.41,88.86 L77.56,89.34 L78.71,89.83 L79.86,90.32 L81.00,90.82 L82.15,91.33 L83.30,91.84 L84.44,92.35 L85.59,92.87 L86.74,93.40 L87.89,93.94 L89.03,94.48 L90.18,95.02 L91.33,95.58 L92.47,96.14 L93.62,96.70 L94.77,97.27 L95.91,97.85 L97.06,98.44 L98.21,99.03 L99.36,99.63 L100.50,100.23 L101.65,100.84 L102.80,101.46 L103.94,102.08 L105.09,102.72 L106.24,103.35 L107.39,104.00 L108.53,104.65 L109.68,105.31 L110.83,105.98 L111.97,106.65 L113.12,107.33 L114.27,108.02 L115.42,108.71 L116.56,109.42 L117.71,110.13 L118.86,110.84 L120.00,111.57 L121.15,112.30 L122.30,113.04 L123.45,113.79 L124.59,114.54 L125.74,115.30 L126.89,116.07 L128.03,116.85 L129.18,117.64 L130.33,118.43 L131.48,119.23 L132.62,120.05 L133.77,120.86 L134.92,121.69 L136.06,122.53 L137.21,123.37 L138.36,124.22 L139.51,125.08 L140.65,125.95 L141.80,126.83 L142.95,127.71 L144.09,128.61 L145.24,129.51 L146.39,130.43 L147.53,131.35 L148.68,132.28 L149.83,133.22 L150.98,134.17 L152.12,135.12 L153.27,136.09 L154.42,137.07 L155.56,138.05 L156.71,139.05 L157.86,140.05 L159.01,141.07 L160.15,142.09 L161.30,143.13 L162.45,144.17 L163.59,145.23 L164.74,146.29 L165.89,147.36 L167.04,148.45 L168.18,149.54 L169.33,150.65 L170.48,151.76 L171.62,152.89 L172.77,154.03 L173.92,155.17 L175.07,156.33 L176.21,157.50 L177.36,158.68 L178.51,159.87 L179.65,161.07 L180.80,162.28 L181.95,163.51 L183.10,164.74 L184.24,165.99 L185.39,167.25 L186.54,168.52 L187.68,169.80 L188.83,171.09 L189.98,172.40 L191.13,173.71 L192.27,175.04 L193.42,176.39 L194.57,177.74 L195.71,179.11 L196.86,180.48 L198.01,181.87 L199.16,183.28 L200.30,184.69 L201.45,186.12 L202.60,187.57 L203.74,189.02 L204.89,190.49 L206.04,191.97 L207.18,193.47 L208.33,194.98 L209.48,196.50 L210.63,198.03 L211.77,199.58 L212.92,201.15 L214.07,202.72 L215.21,204.32 L216.36,205.92 L217.51,207.54 L218.66,209.18 L219.80,210.83 L220.95,212.49 L222.10,214.17 L223.24,215.86 L224.39,217.57 L225.54,219.29 L226.69,221.03 L227.83,222.79 L228.98,224.56 L230.13,226.35 L231.27,228.15 L232.42,229.96 L233.57,231.80 L234.72,233.65 L235.86,235.51 L237.01,237.40 L238.16,239.30 L239.30,241.21 L240.45,243.15 L241.60,245.10 L242.75,247.06 L243.89,249.05 L245.04,251.05 L246.19,253.07 L247.33,255.10 L248.48,257.16 L249.63,259.23 L250.78,261.32 L251.92,263.43 L253.07,265.56 L254.22,267.71 L255.36,269.87 L256.51,272.05 L257.66,274.26 L258.81,276.48 L259.95,278.72 L261.10,280.98 L262.25,283.26 L263.39,285.56 L264.54,287.88 L265.69,290.22 L266.83,292.58 L267.98,294.96 L269.13,297.37 L270.28,299.79 L271.42,302.23 L272.57,304.70 L273.72,307.18 L274.86,309.69 L276.01,312.22 L277.16,314.77 L278.31,317.35 L279.45,319.94 L280.60,322.56 L280.92,323.30" stroke="#000" stroke-width="1.2"/>
<path d="M45.44,86.37 L46.59,86.90 L47.74,87.44 L48.88,87.98 L50.03,88.53 L51.18,89.09 L52.32,89.66 L53.47,90.23 L54.62,90.81 L55.77,91.40 L56.91,92.00 L58.06,92.60 L59.21,93.21 L60.35,93.83 L61.50,94.46 L62.65,95.10 L63.80,95.74 L64.94,96.39 L66.09,97.05 L67.24,97.72 L68.38,98.40 L69.53,99.09 L70.68,99.78 L71.83,100.49 L72.97,101.20 L74.12,101.92 L75.27,102.65 L76.41,103.39 L77.56,104.14 L78.71,104.90 L79.86,105.67 L81.00,106.45 L82.15,107.24 L83.30,108.03 L84.44,108.84 L85.59,109.66 L86.74,110.49 L87.89,111.33 L89.03,112.17 L90.18,113.03 L91.33,113.90 L92.47,114.78 L93.62,115.67 L94.77,116.57 L95.91,117.48 L97.06,118.41 L98.21,119.34 L99.36,120.29 L100.50,121.24 L101.65,122.21 L102.80,123.19 L103.94,124.19 L105.09,125.19 L106.24,126.21 L107.39,127.23 L108.53,128.28 L109.68,129.33 L110.83,130.39 L111.97,131.47 L113.12,132.56 L114.27,133.67 L115.42,134.78 L116.56,135.91 L117.71,137.06 L118.86,138.22 L120.00,139.39 L121.15,140.57 L122.30,141.77 L123.45,142.98 L124.59,144.21 L125.74,145.45 L126.89,146.71 L128.03,147.98 L129.18,149.26 L130.33,150.56 L131.48,151.88 L132.62,153.21 L133.77,154.55 L134.92,155.92 L136.06,157.29 L137.21,158.69 L138.36,160.10 L139.51,161.52 L140.65,162.97 L141.80,164.43 L142.95,165.90 L144.09,167.40 L145.24,168.91 L146.39,170.44 L147.53,171.98 L148.68,173.54 L149.83,175.13 L150.98,176.73 L152.12,178.34 L153.27,179.98 L154.42,181.64 L155.56,183.31 L156.71,185.00 L157.86,186.72 L159.01,188.45 L160.15,190.20 L161.30,191.97 L162.45,193.77 L163.59,195.58 L164.74,197.41 L165.89,199.27 L167.04,201.14 L168.18,203.04 L169.33,204.96 L170.48,206.90 L171.62,208.86 L172.77,210.84 L173.92,212.85 L175.07,214.88 L176.21,216.93 L177.36,219.01 L178.51,221.11 L179.65,223.23 L180.80,225.38 L181.95,227.55 L183.10,229.75 L184.24,231.97 L185.39,234.21 L186.54,236.49 L187.68,238.78 L188.83,241.11 L189.98,243.45 L191.13,245.83 L192.27,248.23 L193.42,250.66 L194.57,253.12 L195.71,255.60 L196.86,258.12 L198.01,260.66 L199.16,263.23 L200.30,265.82 L201.45,268.45 L202.60,271.11 L203.74,273.79 L204.89,276.51 L206.04,279.26 L207.18,282.04 L208.33,284.84 L209.48,287.69 L210.63,290.56 L211.77,293.46 L212.92,296.40 L214.07,299.37 L215.21,302.37 L216.36,305.41 L217.51,308.48 L218.66,311.59 L219.80,314.73 L220.95,317.90 L222.10,321.11 L222.87,323.30" stroke="#000" stroke-width="1.2"/>
</g>
<rect x="45.44" y="12.2" width="457.70" height="311.10" fill="none" stroke="#000" stroke-width="1"/>
<path d="M45.44,323.3 v-4.5 M45.44,12.2 v4.5 M96.30,323.3 v-4.5 M96.30,12.2 v4.5 M147.15,323.3 v-4.5 M147.15,12.2 v4.5 M198.01,323.3 v-4.5 M198.01,12.2 v4.5 M248.86,323.3 v-4.5 M248.86,12.2 v4.5 M299.72,323.3 v-4.5 M299.72,12.2 v4.5 M350.57,323.3 v-4.5 M350.57,12.2 v4.5 M401.43,323.3 v-4.5 M401.43,12.2 v4.5 M452.28,323.3 v-4.5 M452.28,12.2 v4.5 M503.14,323.3 v-4.5 M503.14,12.2 v4.5 M45.44,12.20 h4.70 M503.14,12.20 h-4.70 M45.44,51.09 h4.70 M503.14,51.09 h-4.70 M45.44,89.98 h4.70 M503.14,89.98 h-4.70 M45.44,128.86 h4.70 M503.14,128.86 h-4.70 M45.44,167.75 h4.70 M503.14,167.75 h-4.70 M45.44,206.64 h4.70 M503.14,206.64 h-4.70 M45.44,245.53 h4.70 M503.14,245.53 h-4.70 M45.44,284.41 h4.70 M503.14,284.41 h-4.70 M45.44,323.30 h4.70 M503.14,323.30 h-4.70" stroke="#000" stroke-width="1" fill="none"/>
<g font-family="Liberation Sans, sans-serif" fill="#000" font-size="10.1">
<path transform="translate(28.31,15.90) scale(0.00493,-0.00493)" d="M515 0V1237L197 1010V1180L530 1409H696V0Z" fill="#000"/><path transform="translate(33.92,15.90) scale(0.00493,-0.00493)" d="M515 0V1237L197 1010V1180L530 1409H696V0Z" fill="#000"/>
<path transform="translate(28.31,54.79) scale(0.00493,-0.00493)" d="M515 0V1237L197 1010V1180L530 1409H696V0Z" fill="#000"/><text x="33.92" y="54.79">0</text>
<text x="33.92" y="93.68">9</text>
<text x="33.92" y="132.56">8</text>
<text x="33.92" y="171.45">7</text>
<text x="33.92" y="210.34">6</text>
<text x="33.92" y="249.22">5</text>
<text x="33.92" y="288.11">4</text>
<text x="33.92" y="327.00">3</text>
<text x="43.95" y="336.60">0</text>
<text x="90.59" y="336.60">0.5</text>
<path transform="translate(145.66,336.60) scale(0.00493,-0.00493)" d="M515 0V1237L197 1010V1180L530 1409H696V0Z" fill="#000"/>
<path transform="translate(192.30,336.60) scale(0.00493,-0.00493)" d="M515 0V1237L197 1010V1180L530 1409H696V0Z" fill="#000"/><text x="197.92" y="336.60">.5</text>
<text x="247.37" y="336.60">2</text>
<text x="294.01" y="336.60">2.5</text>
<text x="349.08" y="336.60">3</text>
<text x="395.72" y="336.60">3.5</text>
<text x="450.79" y="336.60">4</text>
<text x="497.43" y="336.60">4.5</text>
</g>
<g font-family="Liberation Sans, sans-serif" fill="#000" font-size="15.7">
<text x="300.20" y="37.2">Thomson regime</text>
<text x="300.20" y="56.4">power-law electrons</text>
<text x="300.20" y="75.5">synchrotron photons</text>
</g>
<g font-family="Liberation Serif, serif" font-size="16.0" fill="#000">
<text x="101.75" y="220.80" text-anchor="end">β=1</text>
<text x="101.75" y="237.80" text-anchor="end">β=3/2</text>
<text x="101.75" y="254.80" text-anchor="end">β=5/3</text>
<text x="101.75" y="271.80" text-anchor="end">β=2</text>
<text x="101.75" y="288.80" text-anchor="end">β=3</text>
</g>
<g fill="none">
<path d="M112.34,215.10 H140.07" stroke="#0000ff" stroke-width="2.8" stroke-dasharray="1.65 1.96"/>
<path d="M112.34,232.10 H140.73" stroke="#ff00ff" stroke-width="3" stroke-dasharray="0.95 0.945"/>
<path d="M112.34,249.10 H140.07" stroke="#686868" stroke-width="3.0" stroke-dasharray="2.35 2.0 0.8 2.05"/>
<path d="M112.34,266.10 H141.29" stroke="#ff0000" stroke-width="3.45" stroke-dasharray="4.0 1.35 1.0 1.35"/>
<path d="M112.34,283.10 H141.20" stroke="#00ff00" stroke-width="3.5" stroke-dasharray="3.0 1.34"/>
</g>
<text x="224.40" y="352.9" font-family="Liberation Sans, sans-serif" fill="#000" font-size="13">Log (E<tspan font-size="10.4" dy="4.6">γ</tspan><tspan dy="-4.6">/4 b E</tspan><tspan font-size="10.4" dy="-6.6">4</tspan><tspan font-size="10.4" dy="9.9">cut</tspan><tspan dy="-3.3">)</tspan></text>
<g font-family="Liberation Sans, sans-serif" fill="#000" transform="translate(14.24,251.3) rotate(-90)">
<text x="0" y="0" font-size="13">Log (E</text>
<text x="37.2" y="-6.9" font-size="10.4">2</text>
<text x="43" y="4.8" font-size="10.4">γ</text>
<text x="45.9" y="0" font-size="13">dN</text>
<text x="64.1" y="4.8" font-size="10.4">γ</text>
<text x="68.5" y="0" font-size="13">/dE</text>
<text x="88.6" y="4.8" font-size="10.4">γ</text>
<text x="94" y="0" font-size="12.8">dt) [arb.units]</text>
</g>
</g>
</svg>
</body></html>
